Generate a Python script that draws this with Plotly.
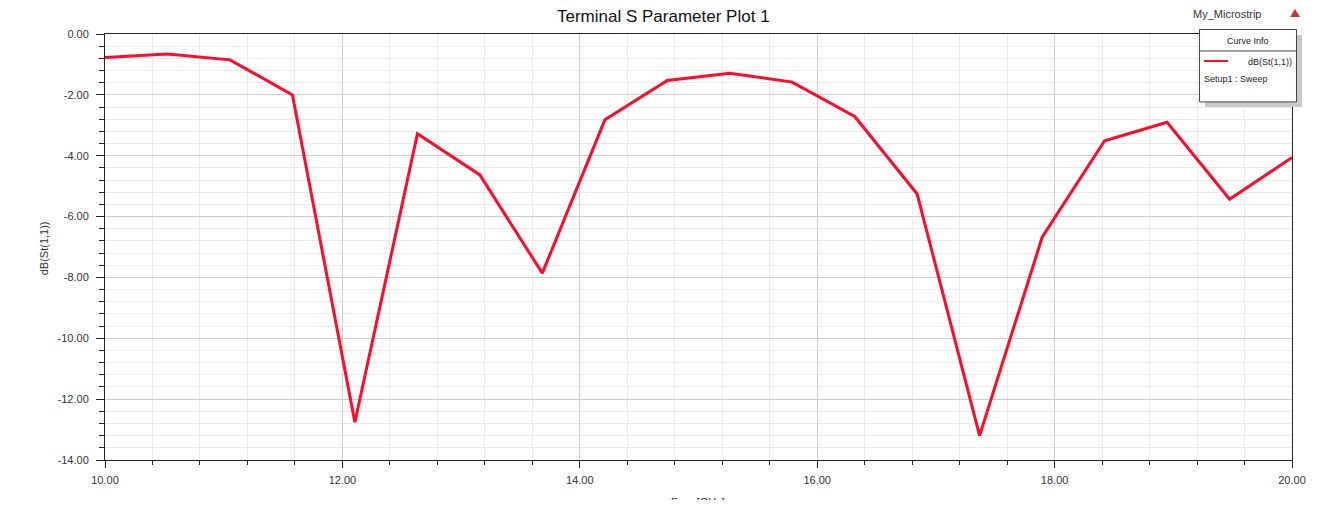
import plotly.graph_objects as go

# ---- data ----
freq_ghz = [10.0, 10.526, 11.053, 11.579, 12.105, 12.632, 13.158, 13.684, 14.211, 14.737,
            15.263, 15.789, 16.316, 16.842, 17.368, 17.895, 18.421, 18.947, 19.474, 20.0]
s11_db = [-0.77, -0.66, -0.85, -2.00, -12.76, -3.28, -4.63, -7.86, -2.82, -1.53,
          -1.29, -1.58, -2.71, -5.26, -13.20, -6.68, -3.51, -2.90, -5.43, -4.06]
x_ticks = [10, 12, 14, 16, 18, 20]
y_ticks = [0, -2, -4, -6, -8, -10, -12, -14]

# page offset (body margin) compensation
O = 8
W, H = 1320 - O, 500 - O
# plot area in page pixels
PL, PR, PT, PB = 104.5, 1292, 34, 460.5
L, R, T, B = PL - O, PR - O, PT - O, PB - O

def px(x):  # page pixel -> paper
    return (x - O - L) / (R - L)

def py(y):
    return (B - (y - O)) / (B - T)

FONT = "Liberation Sans, Arial, sans-serif"
RED = "#ff0a28"

fig = go.Figure()
fig.add_trace(go.Scatter(x=freq_ghz, y=s11_db, mode="lines",
                         line=dict(color=RED, width=3), name="dB(St(1,1))",
                         showlegend=False))

fig.update_layout(
    width=W, height=H,
    margin=dict(l=L, r=W - R, t=T, b=H - B),
    paper_bgcolor="white", plot_bgcolor="white",
    font=dict(family=FONT, size=11, color="#333333"),
    showlegend=False,
)
fig.update_xaxes(range=[10, 20], tickvals=x_ticks, ticktext=[f"{v:.2f}" for v in x_ticks],
                 showgrid=True, gridcolor="#cdcdcd", gridwidth=1,
                 showline=True, linecolor="#222222", linewidth=1, mirror=True,
                 ticks="outside", ticklen=7, tickcolor="#222222",
                 tickfont=dict(size=11, color="#333333"), ticklabelstandoff=3,
                 minor=dict(dtick=0.4, tick0=10, showgrid=True, gridcolor="#ebebeb",
                            ticks="outside", ticklen=4, tickcolor="#222222"),
                 zeroline=False)
fig.update_yaxes(range=[-14, 0], tickvals=y_ticks, ticktext=[f"{v:.2f}" for v in y_ticks],
                 showgrid=True, gridcolor="#cdcdcd", gridwidth=1,
                 showline=True, linecolor="#222222", linewidth=1, mirror=True,
                 ticks="outside", ticklen=8, tickcolor="#222222",
                 tickfont=dict(size=11, color="#333333"), ticklabelstandoff=5,
                 minor=dict(dtick=0.4, tick0=0, showgrid=True, gridcolor="#ebebeb",
                            ticks="outside", ticklen=5, tickcolor="#222222"),
                 zeroline=False)

annotations = [
    dict(text="Terminal S Parameter Plot 1", x=px(663), y=py(16.5), xref="paper", yref="paper",
         showarrow=False, font=dict(size=17, color="#111111", family=FONT), xanchor="center", yanchor="middle"),
    dict(text="My_Microstrip", x=px(1227), y=py(14), xref="paper", yref="paper",
         showarrow=False, font=dict(size=11, color="#333333", family=FONT), xanchor="center", yanchor="middle"),
    dict(text="dB(St(1,1))", x=px(43), y=py(249), xref="paper", yref="paper", textangle=-90,
         showarrow=False, font=dict(size=11, color="#333333", family=FONT), xanchor="center", yanchor="middle"),
    dict(text="Freq [GHz]", x=px(698), y=py(495), xref="paper", yref="paper",
         showarrow=False, font=dict(size=11, color="#333333", family=FONT), xanchor="center", yanchor="top"),
    dict(text="Curve Info", x=px(1248), y=py(41), xref="paper", yref="paper",
         showarrow=False, font=dict(size=9, color="#222222", family=FONT), xanchor="center", yanchor="middle"),
    dict(text="dB(St(1,1))", x=px(1294), y=py(62), xref="paper", yref="paper",
         showarrow=False, font=dict(size=9, color="#222222", family=FONT), xanchor="right", yanchor="middle"),
    dict(text="Setup1 : Sweep", x=px(1202), y=py(79), xref="paper", yref="paper",
         showarrow=False, font=dict(size=9, color="#222222", family=FONT), xanchor="left", yanchor="middle"),
]
fig.update_layout(annotations=annotations)

shapes = [
    # legend shadow
    dict(type="rect", xref="paper", yref="paper", x0=px(1205), x1=px(1302), y0=py(35), y1=py(107),
         fillcolor="#c8c8c8", line=dict(width=0), layer="above"),
    # legend box
    dict(type="rect", xref="paper", yref="paper", x0=px(1199.5), x1=px(1296.5), y0=py(29.5), y1=py(102),
         fillcolor="white", line=dict(color="#444444", width=1), layer="above"),
    # header separator
    dict(type="line", xref="paper", yref="paper", x0=px(1199.5), x1=px(1296.5), y0=py(51), y1=py(51),
         line=dict(color="#444444", width=1), layer="above"),
    # legend sample line
    dict(type="line", xref="paper", yref="paper", x0=px(1204), x1=px(1228), y0=py(61), y1=py(61),
         line=dict(color=RED, width=2), layer="above"),
    # logo triangle
    dict(type="path", xref="paper", yref="paper",
         path=f"M {px(1290)} {py(17)} L {px(1295)} {py(9)} L {px(1300)} {py(17)} Z",
         fillcolor="#d43030", line=dict(width=0), layer="above"),
]
fig.update_layout(shapes=shapes)

fig.write_html("out.html")
